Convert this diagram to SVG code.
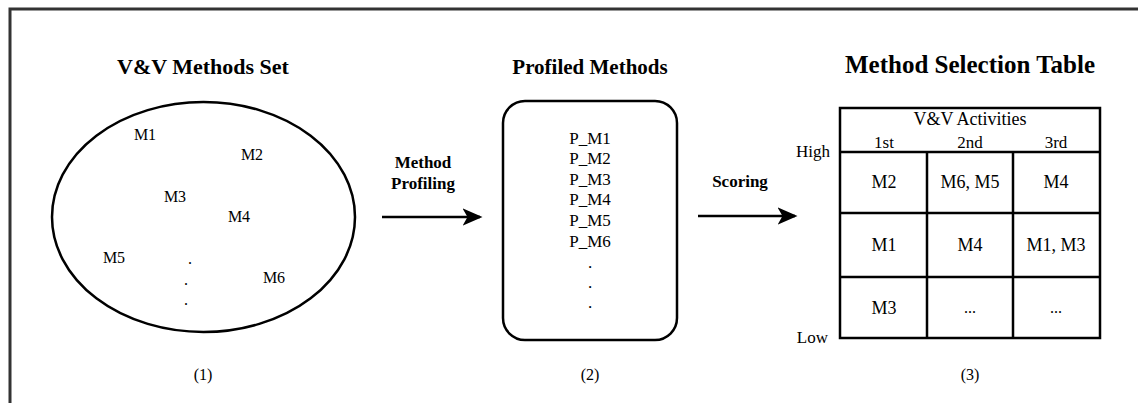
<svg xmlns="http://www.w3.org/2000/svg" width="1138" height="403" viewBox="0 0 1138 403">
<style>
text{font-family:'Liberation Serif','DejaVu Serif','Times New Roman',serif;fill:#000;text-anchor:middle}
.t{font-weight:bold}
.b{font-weight:bold;font-size:17px}
.m{font-size:16px}
.c{font-size:18px}
.s{font-size:17px}
.ln{fill:none;stroke:#000;stroke-width:2.5}
</style>
<defs>
<marker id="ah" markerWidth="8" markerHeight="8" refX="7" refY="3.5" orient="auto" markerUnits="strokeWidth" viewBox="0 0 8 7">
<path d="M0,0 L8,3.5 L0,7 L2,3.5 Z" fill="#000"/>
</marker>
</defs>
<rect x="10" y="9" width="1200" height="500" fill="#fff" stroke="#333" stroke-width="3"/>

<g id="methods-set" font-family="Liberation Serif, serif">
<text class="t" x="203" y="74" font-size="22">V&amp;V Methods Set</text>
<ellipse cx="203.5" cy="217" rx="151.5" ry="115" class="ln"/>
<text class="m" x="145" y="140">M1</text>
<text class="m" x="252" y="160">M2</text>
<text class="m" x="175" y="202">M3</text>
<text class="m" x="239" y="222">M4</text>
<text class="m" x="114" y="263">M5</text>
<text class="m" x="274" y="283">M6</text>
<text class="m" x="190" y="264">.</text>
<text class="m" x="186" y="285">.</text>
<text class="m" x="186" y="305">.</text>
<text class="m" x="203" y="380">(1)</text>
</g>

<g id="profiled-methods">
<text class="t" x="590" y="74" font-size="21">Profiled Methods</text>
<rect x="503" y="101" width="174" height="239" rx="22" class="ln"/>
<text class="s" x="590" y="144">P_M1</text>
<text class="s" x="590" y="164">P_M2</text>
<text class="s" x="590" y="185">P_M3</text>
<text class="s" x="590" y="205">P_M4</text>
<text class="s" x="590" y="226">P_M5</text>
<text class="s" x="590" y="247">P_M6</text>
<text class="s" x="590" y="268">.</text>
<text class="s" x="590" y="288">.</text>
<text class="s" x="590" y="308">.</text>
<text class="m" x="590" y="380">(2)</text>
</g>

<g id="selection-table">
<text class="t" x="970" y="73" font-size="25">Method Selection Table</text>
<rect x="840" y="108" width="260" height="230" class="ln"/>
<path d="M840,152 H1100 M840,213 H1100 M840,277 H1100 M927,152 V338 M1013,152 V338" class="ln"/>
<text class="c" x="970" y="125">V&amp;V Activities</text>
<text class="s" x="884" y="148">1st</text>
<text class="s" x="970" y="148">2nd</text>
<text class="s" x="1056" y="148">3rd</text>
<text class="s" x="830" y="157" style="text-anchor:end">High</text>
<text class="s" x="828" y="343" style="text-anchor:end">Low</text>
<text class="c" x="884" y="188">M2</text>
<text class="c" x="970" y="188">M6, M5</text>
<text class="c" x="1056" y="188">M4</text>
<text class="c" x="884" y="251">M1</text>
<text class="c" x="970" y="251">M4</text>
<text class="c" x="1056" y="251">M1, M3</text>
<text class="c" x="884" y="314">M3</text>
<text class="m" x="970" y="313">...</text>
<text class="m" x="1056" y="313">...</text>
<text class="m" x="970" y="380">(3)</text>
</g>

<g id="connectors">
<line x1="382" y1="217" x2="480" y2="217" class="ln" marker-end="url(#ah)"/>
<text class="b" x="423" y="168">Method</text>
<text class="b" x="423" y="189">Profiling</text>
<line x1="698" y1="216" x2="795" y2="216" class="ln" marker-end="url(#ah)"/>
<text class="b" x="740" y="187">Scoring</text>
</g>
</svg>
